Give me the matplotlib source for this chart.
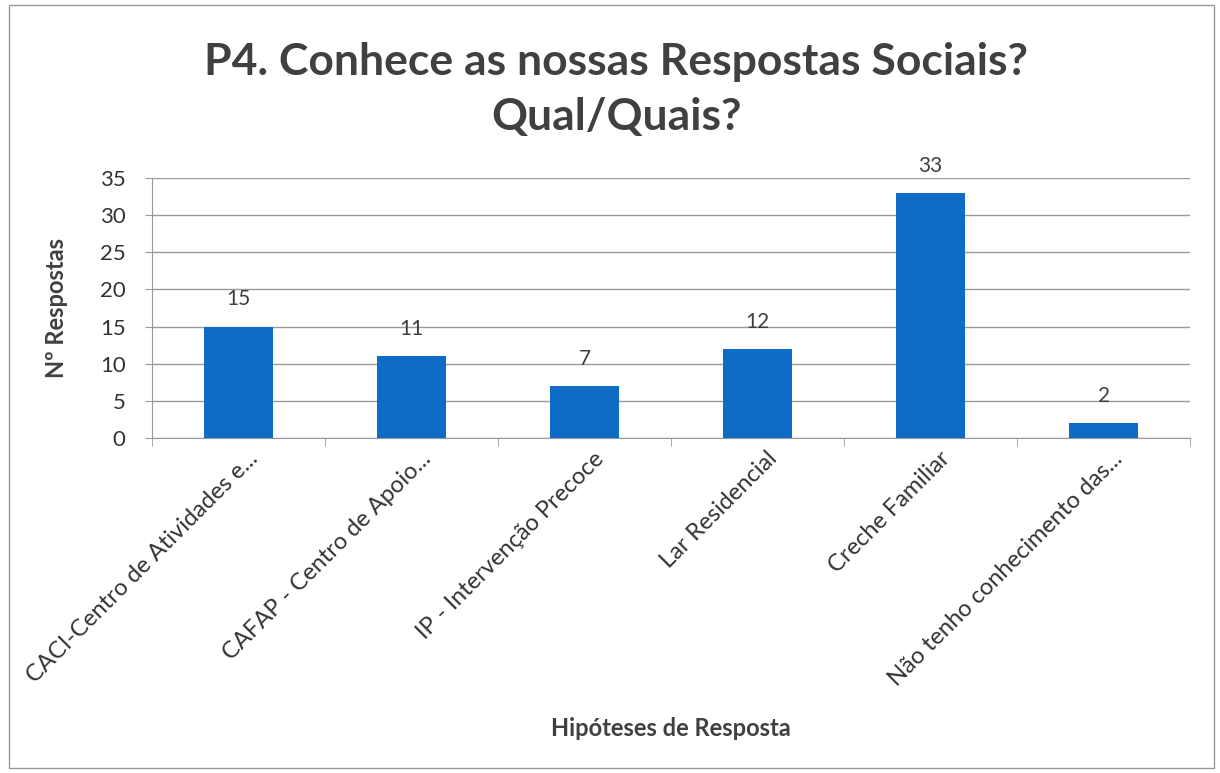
import matplotlib.pyplot as plt
import matplotlib.transforms as mtransforms
import numpy as np

categorias = ["CACI-Centro de Atividades e...", "CAFAP - Centro de Apoio...",
              "IP - Intervenção Precoce", "Lar Residencial", "Creche Familiar",
              "Não tenho conhecimento das..."]
respostas = [15, 11, 7, 12, 33, 2]
yticks = [0, 5, 10, 15, 20, 25, 30, 35]

plt.rcParams['font.family'] = ['Lato', 'DejaVu Sans']

fig = plt.figure(figsize=(12.2, 7.73), dpi=100)
ax = fig.add_axes([0.1246, 0.4334, 0.851, 0.3363])

x = np.arange(len(categorias))
bars = ax.bar(x, respostas, width=0.4, color='#0e6cc6', zorder=3)
for b, v in zip(bars, respostas):
    ax.text(b.get_x() + b.get_width() / 2, v + 2.3, str(v), ha='center', va='bottom',
            fontsize=15, color='#404040')

ax.set_xlim(-0.5, len(categorias) - 0.5)
ax.set_ylim(0, 35)
ax.set_yticks(yticks)
ax.tick_params(axis='y', labelsize=16, colors='#333333', length=5, color='#999999', pad=14)
ax.yaxis.grid(True, color='#9a9a9a', linewidth=1, zorder=0)

ax.set_xticks(x)
ax.set_xticklabels(categorias, rotation=45, ha='right', rotation_mode='anchor',
                   fontsize=17, color='#333333')
ax.tick_params(axis='x', length=0, pad=7)
# nudge the rotated labels a little to the right, like Excel places them
shift = mtransforms.ScaledTranslation(6 / 72, 0, fig.dpi_scale_trans)
for lbl in ax.get_xticklabels():
    lbl.set_transform(lbl.get_transform() + shift)
ax.set_xticks(np.arange(-0.5, len(categorias)), minor=True)
ax.tick_params(axis='x', which='minor', length=6, color='#999999')

for s in ['top', 'right']:
    ax.spines[s].set_visible(False)
for s in ['left', 'bottom']:
    ax.spines[s].set_color('#999999')

ax.set_ylabel('Nº Respostas', fontsize=17, fontweight='bold', color='#404040')
ax.yaxis.set_label_coords(-0.081, 0.5)
fig.text(0.55, 0.058, 'Hipóteses de Resposta', ha='center', va='center',
         fontsize=17, fontweight='bold', color='#404040')

fig.text(0.505, 0.884, 'P4. Conhece as nossas Respostas Sociais?\nQual/Quais?',
         ha='center', va='center', fontsize=32, fontweight='bold', color='#404040',
         linespacing=1.45)

fig.patches.append(plt.Rectangle((0.007, 0.006), 0.988, 0.988, transform=fig.transFigure,
                                 fill=False, edgecolor='#999999', linewidth=1))

fig.savefig('out.png', dpi=100)
